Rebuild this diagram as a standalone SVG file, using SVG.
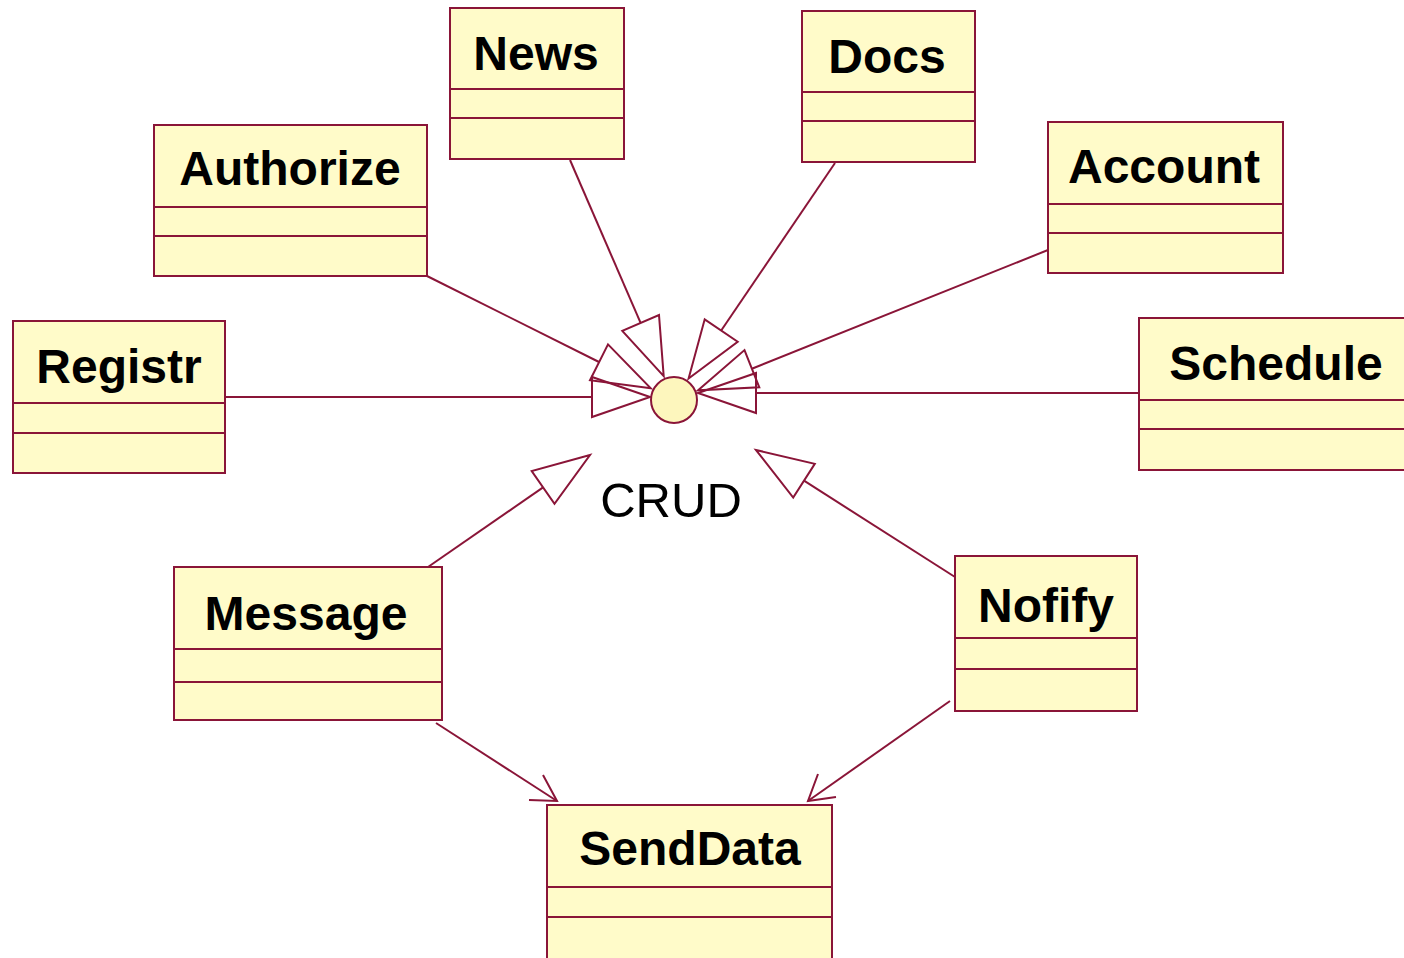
<svg xmlns="http://www.w3.org/2000/svg" width="1404" height="958" viewBox="0 0 1404 958">
<defs>
<style>
.box{fill:#fffbc9;stroke:#8a1538;stroke-width:2}
.div{stroke:#8a1538;stroke-width:2}
.lbl{font-family:"Liberation Sans",Arial,sans-serif;font-size:48px;font-weight:bold;fill:#000;text-anchor:middle}
.crud{font-family:"Liberation Sans",Arial,sans-serif;font-size:49px;fill:#000;text-anchor:middle}
.ln{stroke:#8a1538;stroke-width:2;fill:none}
.tri{stroke:#8a1538;stroke-width:2;fill:none;stroke-linejoin:miter}
</style>
</defs>
<rect width="1404" height="958" fill="#ffffff"/>

<g id="connectors">
  <!-- Registr -->
  <line class="ln" x1="225" y1="397" x2="592" y2="397"/>
  <polygon class="tri" points="650,397 592,377 592,417"/>
  <!-- Schedule -->
  <line class="ln" x1="1139" y1="393" x2="756" y2="393"/>
  <polygon class="tri" points="698,393 756,373 756,413"/>
  <!-- Authorize -->
  <line class="ln" x1="427" y1="276" x2="599" y2="362"/>
  <polygon class="tri" points="650.8,388.3 590,380.2 608,344.4"/>
  <!-- News -->
  <line class="ln" x1="570" y1="160" x2="640.6" y2="322.9"/>
  <polygon class="tri" points="663.7,376.1 622.3,330.9 659,315"/>
  <!-- Docs -->
  <line class="ln" x1="835" y1="163" x2="721.2" y2="330.5"/>
  <polygon class="tri" points="688.6,378.5 704.7,319.3 737.7,341.7"/>
  <!-- Account -->
  <line class="ln" x1="1048" y1="250" x2="751.9" y2="368.7"/>
  <polygon class="tri" points="698.1,390.3 744.5,350.1 759.3,387.3"/>
  <!-- Message -> CRUD -->
  <line class="ln" x1="428" y1="567" x2="543.1" y2="487.4"/>
  <polygon class="tri" points="590,455 531.7,471 554.5,503.8"/>
  <!-- Nofify -> CRUD -->
  <line class="ln" x1="955" y1="577" x2="804" y2="480.7"/>
  <polygon class="tri" points="756,450 814.8,463.8 793.2,497.6"/>
  <!-- Message -> SendData (dependency) -->
  <line class="ln" x1="436" y1="723" x2="557" y2="801"/>
  <polyline class="ln" points="543,775 557,801 529,800"/>
  <!-- Nofify -> SendData (dependency) -->
  <line class="ln" x1="950" y1="701" x2="808" y2="801"/>
  <polyline class="ln" points="818,774 808,801 836,797"/>
</g>

<g id="CRUD">
  <circle cx="674" cy="400" r="23" fill="#fdf6bd" stroke="#8a1538" stroke-width="2"/>
  <text class="crud" x="671" y="517">CRUD</text>
</g>

<g id="News">
  <rect class="box" x="450" y="8" width="174" height="151"/>
  <line class="div" x1="450" y1="89" x2="624" y2="89"/>
  <line class="div" x1="450" y1="118" x2="624" y2="118"/>
  <text class="lbl" x="536" y="70">News</text>
</g>

<g id="Docs">
  <rect class="box" x="802" y="11" width="173" height="151"/>
  <line class="div" x1="802" y1="92" x2="975" y2="92"/>
  <line class="div" x1="802" y1="121" x2="975" y2="121"/>
  <text class="lbl" x="887" y="73">Docs</text>
</g>

<g id="Authorize">
  <rect class="box" x="154" y="125" width="273" height="151"/>
  <line class="div" x1="154" y1="207" x2="427" y2="207"/>
  <line class="div" x1="154" y1="236" x2="427" y2="236"/>
  <text class="lbl" x="290" y="185">Authorize</text>
</g>

<g id="Account">
  <rect class="box" x="1048" y="122" width="235" height="151"/>
  <line class="div" x1="1048" y1="204" x2="1283" y2="204"/>
  <line class="div" x1="1048" y1="233" x2="1283" y2="233"/>
  <text class="lbl" x="1164" y="183">Account</text>
</g>

<g id="Registr">
  <rect class="box" x="13" y="321" width="212" height="152"/>
  <line class="div" x1="13" y1="403" x2="225" y2="403"/>
  <line class="div" x1="13" y1="433" x2="225" y2="433"/>
  <text class="lbl" x="119" y="383">Registr</text>
</g>

<g id="Schedule">
  <rect class="box" x="1139" y="318" width="275" height="152"/>
  <line class="div" x1="1139" y1="400" x2="1404" y2="400"/>
  <line class="div" x1="1139" y1="429" x2="1404" y2="429"/>
  <text class="lbl" x="1276" y="380">Schedule</text>
</g>

<g id="Message">
  <rect class="box" x="174" y="567" width="268" height="153"/>
  <line class="div" x1="174" y1="649" x2="442" y2="649"/>
  <line class="div" x1="174" y1="682" x2="442" y2="682"/>
  <text class="lbl" x="306" y="630">Message</text>
</g>

<g id="Nofify">
  <rect class="box" x="955" y="556" width="182" height="155"/>
  <line class="div" x1="955" y1="638" x2="1137" y2="638"/>
  <line class="div" x1="955" y1="669" x2="1137" y2="669"/>
  <text class="lbl" x="1046" y="622">Nofify</text>
</g>

<g id="SendData">
  <rect class="box" x="547" y="805" width="285" height="165"/>
  <line class="div" x1="547" y1="887" x2="832" y2="887"/>
  <line class="div" x1="547" y1="917" x2="832" y2="917"/>
  <text class="lbl" x="690" y="865">SendData</text>
</g>
</svg>
